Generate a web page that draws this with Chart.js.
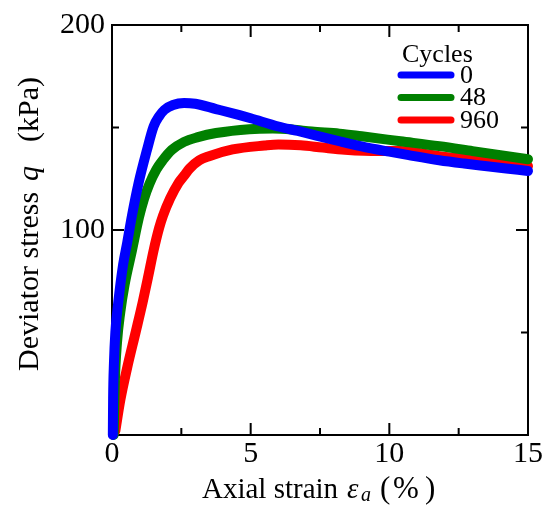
<!DOCTYPE html>
<html><head><meta charset="utf-8">
<script src="https://cdn.jsdelivr.net/npm/chart.js@4"></script>
<style>html,body{margin:0;padding:0;background:#fff}#wrap{width:547px;height:506px}</style>
</head><body><div id="wrap"><canvas id="c" width="547" height="506"></canvas></div>
<script>
// ---- data ----
const seriesLabels = ['0', '48', '960'];
const seriesColors = ['#0000ff', '#008000', '#ff0000'];

const strain0 = [0.03,0.04,0.07,0.12,0.22,0.4,0.55,0.72,0.96,1.26,1.5,1.7,1.89,2.2,2.6,3.0,3.75,4.6,5.0,6.0,6.7,8.2,9.0,10.0,10.7,11.8,12.7,13.6,14.3,15];
const stress0 = [0,18,35,50,64,83,94,107,123,139,150.5,155.5,158.6,161,162,161.6,159,156,154.5,150.5,148.3,143.3,140.8,138.2,136.5,134,132.4,131,129.9,128.8];

const strain48 = [0.06,0.1,0.18,0.3,0.45,0.72,0.97,1.15,1.35,1.6,1.83,2.15,2.6,3.1,3.75,4.95,5.8,6.5,7.2,8.2,9.0,10.4,11.8,13.0,14.0,15.0];
const stress48 = [0,25,45,60,73,90,106,115,122.5,129.5,134,139,143,145.3,147.3,149.2,149.5,149,148,147,145.7,143.3,140.9,138.5,136.5,134.5];

const strain960 = [0.12,0.3,0.55,0.85,1.11,1.3,1.5,1.7,1.84,2.1,2.4,2.6,2.8,3.15,3.5,4.35,5.5,6.0,6.8,7.6,8.4,9.6,10.4,11.8,13.0,14.0,15.0];
const stress960 = [2,17,33,50,65,77,90,101,107,115.5,123,126.5,130,134,136,139.3,141.2,141.7,141.3,140.2,139.2,138.5,138.5,136,134.3,132.8,131.2];

const xMajorTicks = [0, 5, 10, 15];
const xMinorTicks = [2.5, 7.5, 12.5];
const yMajorTicks = [0, 100, 200];
const yMinorTicks = [50, 150];
const legendTitle = 'Cycles';

// ---- build chart ----
const FONT = "'Liberation Serif','Times New Roman',serif";
const toPts = (xs, ys) => xs.map((x, i) => ({x: x, y: ys[i]}));
const allStrain = [strain0, strain48, strain960];
const allStress = [stress0, stress48, stress960];

const datasets = seriesLabels.map((lab, i) => ({
  label: lab,
  data: toPts(allStrain[i], allStress[i]),
  borderColor: seriesColors[i],
  backgroundColor: seriesColors[i],
  borderWidth: 10,
  pointRadius: 0,
  showLine: true,
  cubicInterpolationMode: 'monotone',
  borderCapStyle: 'round',
  borderJoinStyle: 'round',
  clip: 8
}));

const framePlugin = {
  id: 'frame',
  beforeDatasetsDraw(chart) {
    const ctx = chart.ctx, a = chart.chartArea;
    const xs = chart.scales.x, ys = chart.scales.y;
    ctx.save();
    ctx.strokeStyle = '#000';
    ctx.lineWidth = 2;
    ctx.strokeRect(a.left, a.top, a.right - a.left, a.bottom - a.top);
    const tick = (vals, len) => {
      vals.forEach(v => {
        const px = xs.getPixelForValue(v);
        ctx.beginPath();
        ctx.moveTo(px, a.bottom); ctx.lineTo(px, a.bottom - len);
        ctx.moveTo(px, a.top); ctx.lineTo(px, a.top + len);
        ctx.stroke();
      });
    };
    const tickY = (vals, len) => {
      vals.forEach(v => {
        const py = ys.getPixelForValue(v);
        ctx.beginPath();
        ctx.moveTo(a.left, py); ctx.lineTo(a.left + len, py);
        ctx.moveTo(a.right, py); ctx.lineTo(a.right - len, py);
        ctx.stroke();
      });
    };
    tick(xMajorTicks, 12); tick(xMinorTicks, 7);
    tickY(yMajorTicks, 12); tickY(yMinorTicks, 7);
    ctx.restore();
  },
  afterDraw(chart) {
    const ctx = chart.ctx, a = chart.chartArea;
    ctx.save();
    ctx.fillStyle = '#000';
    ctx.textBaseline = 'alphabetic';
    ctx.textAlign = 'left';
    const normal = '29px ' + FONT, ital = 'italic 29px ' + FONT, sub = 'italic 20px ' + FONT;
    // x title
    const cx = (a.left + a.right) / 2;
    const by = 498;
    ctx.font = normal; ctx.fillText('Axial strain', cx - 118, by);
    ctx.font = ital; ctx.fillText('\u03B5', cx + 27, by);
    ctx.font = sub; ctx.fillText('a', cx + 41, by + 3);
    ctx.font = '31px ' + FONT;
    ctx.fillText('(', cx + 60, by);
    ctx.fillText('%', cx + 73, by);
    ctx.fillText(')', cx + 105, by);
    // y title (rotated)
    const cy = (a.top + a.bottom) / 2;
    ctx.translate(38, cy + 141);
    ctx.rotate(-Math.PI / 2);
    ctx.font = '30px ' + FONT; ctx.fillText('Deviator stress', 0, 0);
    ctx.font = 'italic 30px ' + FONT; ctx.fillText('q', 190, 0);
    ctx.font = '30px ' + FONT; ctx.fillText('(kPa)', 229, 0);
    ctx.restore();

    // legend inside plot
    ctx.save();
    ctx.fillStyle = '#000';
    ctx.font = '26px ' + FONT;
    ctx.textAlign = 'left';
    ctx.textBaseline = 'alphabetic';
    const lx = a.right - 126;
    ctx.fillText(legendTitle, lx, a.top + 37);
    chart.data.datasets.forEach((ds, i) => {
      const yy = a.top + 50 + i * 22.5;
      ctx.strokeStyle = ds.borderColor;
      ctx.lineWidth = 7;
      ctx.lineCap = 'round';
      ctx.beginPath();
      ctx.moveTo(lx - 1, yy); ctx.lineTo(lx + 49, yy);
      ctx.stroke();
      ctx.textBaseline = 'middle';
      ctx.fillText(ds.label, lx + 58, yy + 1);
    });
    ctx.restore();
  }
};

new Chart(document.getElementById('c'), {
  type: 'scatter',
  data: { datasets: datasets },
  options: {
    responsive: false,
    animation: false,
    devicePixelRatio: 1,
    layout: { padding: { top: 19, right: 19, left: 0, bottom: 0 } },
    plugins: { legend: { display: false }, tooltip: { enabled: false } },
    scales: {
      x: {
        type: 'linear', min: 0, max: 15,
        afterBuildTicks: s => { s.ticks = xMajorTicks.map(v => ({value: v})); },
        afterFit: s => { s.height = 71; },
        grid: { display: false, drawTicks: false },
        border: { display: false },
        ticks: { color: '#000', padding: 1, font: { family: FONT, size: 30 } },
        title: { display: false }
      },
      y: {
        type: 'linear', min: 0, max: 200,
        afterBuildTicks: s => { s.ticks = yMajorTicks.map(v => ({value: v})); },
        afterFit: s => { s.width = 112; },
        grid: { display: false, drawTicks: false },
        border: { display: false },
        ticks: { color: '#000', padding: 7, font: { family: FONT, size: 30 },
                 callback: v => (v === 0 ? '' : String(v)) },
        title: { display: false }
      }
    }
  },
  plugins: [framePlugin]
});
</script>
</body></html>
